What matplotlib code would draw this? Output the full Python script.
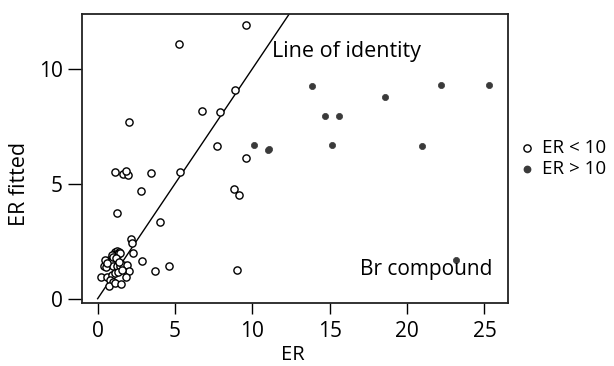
import matplotlib
matplotlib.use("Agg")
import matplotlib.pyplot as plt
from matplotlib.lines import Line2D

plt.rcParams['font.family'] = ['Open Sans', 'DejaVu Sans']

# ER < 10 (open circles)
er_low = [9.61, 5.23, 8.90, 6.75, 7.93, 2.04, 7.72, 9.61, 1.14, 1.64, 1.96, 1.85,
          3.45, 5.34, 2.80, 8.79, 9.16, 9.01, 1.25, 4.03, 2.15, 2.22, 2.26, 2.87,
          3.73, 4.61,
          1.12, 1.27, 1.40, 1.18, 1.33, 1.46, 0.75, 0.94, 0.41, 0.54, 1.01, 1.23,
          1.44, 1.65, 1.87, 2.04, 0.19, 0.62, 0.90, 1.12, 1.33, 1.55, 1.83, 0.80,
          1.00, 0.75, 1.12, 1.51, 0.47, 0.58, 0.90, 1.00, 1.20, 1.38]
fit_low = [11.90, 11.09, 9.08, 8.15, 8.14, 7.67, 6.65, 6.14, 5.49, 5.41, 5.38, 5.56,
           5.46, 5.52, 4.67, 4.79, 4.51, 1.24, 3.72, 3.32, 2.58, 2.43, 2.00, 1.66,
           1.19, 1.43,
           2.04, 2.07, 2.04, 1.94, 1.94, 1.97, 1.68, 1.68, 1.42, 1.37, 1.42, 1.42,
           1.42, 1.47, 1.47, 1.22, 0.96, 0.96, 1.03, 1.10, 1.17, 1.25, 0.96, 0.81,
           0.74, 0.55, 0.67, 0.63, 1.68, 1.54, 1.90, 1.80, 1.75, 1.60]

# ER > 10 (filled points)
er_high = [13.86, 22.2, 25.28, 18.58, 14.72, 15.63, 10.09, 11.06, 11.0, 15.13, 20.95, 23.13]
fit_high = [9.27, 9.30, 9.30, 8.75, 7.93, 7.96, 6.68, 6.51, 6.46, 6.68, 6.65, 1.70]

identity = [0, 13]
legend_labels = ['ER < 10', 'ER > 10']

W, H = 614, 366
fig = plt.figure(figsize=(W / 100, H / 100), dpi=100)
L, R, T, B = 81.7, 507.7, 14.0, 303.3
ax = fig.add_axes([L / W, 1 - B / H, (R - L) / W, (B - T) / H])

ax.plot(identity, identity, color='black', lw=1.0, zorder=1)
ax.scatter(er_low, fit_low, s=27, facecolors='white', edgecolors='black',
           linewidths=1.0, zorder=2)
ax.scatter(er_high, fit_high, s=20, facecolors='#3a3a3a', edgecolors='#3a3a3a',
           linewidths=0.5, zorder=3)

ax.set_xlim(-1.03, 26.5)
ax.set_ylim(-0.2, 12.38)
ax.set_xticks([0, 5, 10, 15, 20, 25])
ax.set_yticks([0, 5, 10])
ax.tick_params(axis='x', direction='out', length=8, width=1, pad=4.5, labelsize=15)
ax.tick_params(axis='y', direction='out', length=10, width=1, pad=3.5, labelsize=15)
for s in ax.spines.values():
    s.set_linewidth(1.3)
    s.set_color('#222222')

ax.set_xlabel('ER', fontsize=14.5, va='center', ha='center')
ax.xaxis.set_label_coords((293 - L) / (R - L), (B - 355.5) / (B - T))
ax.set_ylabel('ER fitted', fontsize=15.5, va='center', ha='center')
ax.yaxis.set_label_coords((19 - L) / (R - L), (B - 184) / (B - T))

ax.text(11.27, 10.73, 'Line of identity', fontsize=15.5, ha='left', va='center')
ax.text(25.5, 1.28, 'Br compound', fontsize=15, ha='right', va='center')

# legend (outside the axes, at the right)
leg_rows = [148, 169]
fig.add_artist(Line2D([527 / W], [1 - leg_rows[0] / H], transform=fig.transFigure,
                      ls='none', marker='o', markersize=5.2, markerfacecolor='white',
                      markeredgecolor='black', markeredgewidth=1.0))
fig.add_artist(Line2D([527 / W], [1 - leg_rows[1] / H], transform=fig.transFigure,
                      ls='none', marker='o', markersize=4.6, markerfacecolor='#3a3a3a',
                      markeredgecolor='#3a3a3a'))
for lab, yy in zip(legend_labels, leg_rows):
    fig.text(542 / W, 1 - yy / H, lab, fontsize=13.5, ha='left', va='center')

fig.savefig('out.png', dpi=100)
